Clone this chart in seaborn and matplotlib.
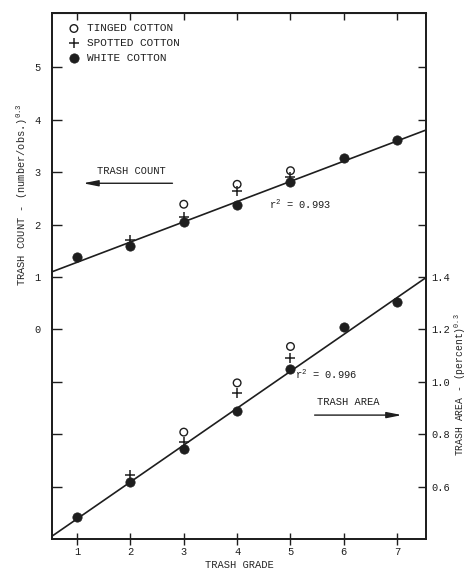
import numpy as np
import pandas as pd
import matplotlib
matplotlib.use("Agg")
import matplotlib.pyplot as plt
import seaborn as sns

# trash grade (x) and values
grades = [1, 2, 3, 4, 5, 6, 7]
tinged_grades = [3, 4, 5]
spotted_grades = [2, 3, 4, 5]

# trash count - (number/obs.)^0.3, left axis
white_count = [1.38, 1.59, 2.05, 2.37, 2.81, 3.27, 3.61]
tinged_count = [2.39, 2.77, 3.03]
spotted_count = [1.70, 2.14, 2.64, 2.91]

# trash area - (percent)^0.3, right axis
white_area = [0.485, 0.619, 0.742, 0.888, 1.05, 1.208, 1.304]
tinged_area = [0.808, 0.996, 1.135]
spotted_area = [0.646, 0.769, 0.958, 1.092]

left_ticks = [-3, -2, -1, 0, 1, 2, 3, 4, 5]
left_labels = ["", "", "", "0", "1", "2", "3", "4", "5"]
right_ticks = [0.6, 0.8, 1.0, 1.2, 1.4, 1.6, 1.8, 2.0, 2.2]
right_labels = ["0.6", "0.8", "1.0", "1.2", "1.4", "", "", "", ""]

labels = ["TINGED COTTON", "SPOTTED COTTON", "WHITE COTTON"]
r2_count = "r$^2$ = 0.993"
r2_area = "r$^2$ = 0.996"

ink = "#1e1e1e"

sns.set_style("ticks")
plt.rcParams["font.family"] = ["Liberation Mono", "DejaVu Sans Mono"]
plt.rcParams["mathtext.default"] = "regular"
plt.rcParams["axes.edgecolor"] = ink
plt.rcParams["xtick.color"] = ink
plt.rcParams["ytick.color"] = ink
plt.rcParams["text.color"] = ink

fig, ax = plt.subplots(figsize=(4.67, 5.71), dpi=100)
fig.subplots_adjust(left=52/467, right=426/467, top=1-13/571, bottom=1-539/571)
ax2 = ax.twinx()

xlim = (0.53, 7.54)
ax.set_xlim(xlim)
ax2.set_xlim(xlim)
ax.set_ylim(-4.0, 6.04)
ax2.set_ylim(0.4, 1.2 + 0.2 * 6.04)

# points, left axis (these carry the legend)
sns.scatterplot(x=tinged_grades, y=tinged_count, ax=ax, marker="o", s=30,
                color=ink, facecolors="none", edgecolor=ink, linewidth=1.0,
                label=labels[0], zorder=4)
sns.scatterplot(x=spotted_grades, y=spotted_count, ax=ax, marker="+", s=60,
                color=ink, linewidth=1.1, label=labels[1], zorder=4)
sns.scatterplot(x=grades, y=white_count, ax=ax, marker="o", s=45,
                color=ink, edgecolor=ink, linewidth=0.5, label=labels[2], zorder=4)

# points, right axis
sns.scatterplot(x=tinged_grades, y=tinged_area, ax=ax2, marker="o", s=30,
                color=ink, facecolors="none", edgecolor=ink, linewidth=1.0, zorder=4)
sns.scatterplot(x=spotted_grades, y=spotted_area, ax=ax2, marker="+", s=60,
                color=ink, linewidth=1.1, zorder=4)
sns.scatterplot(x=grades, y=white_area, ax=ax2, marker="o", s=45,
                color=ink, edgecolor=ink, linewidth=0.5, zorder=4)

# fitted lines across the full axis width
ax.set_xlim(xlim)
ax2.set_xlim(xlim)
sns.regplot(x=grades, y=white_count, ax=ax, ci=None, truncate=False, scatter=False,
            line_kws=dict(color=ink, lw=1.2))
sns.regplot(x=grades, y=white_area, ax=ax2, ci=None, truncate=False, scatter=False,
            line_kws=dict(color=ink, lw=1.2))
ax.set_xlim(xlim)
ax2.set_xlim(xlim)
ax.set_ylim(-4.0, 6.04)
ax2.set_ylim(0.4, 1.2 + 0.2 * 6.04)

fs = 7.5
ax.set_xticks(grades)
ax.set_xticklabels([str(g) for g in grades], fontsize=fs)
ax.set_yticks(left_ticks)
ax.set_yticklabels(left_labels, fontsize=fs)
ax2.set_yticks(right_ticks)
ax2.set_yticklabels(right_labels, fontsize=fs)
ax.tick_params(axis="x", direction="inout", length=8, width=1.0, pad=2)
ax.tick_params(axis="y", direction="in", length=7, width=1.0, pad=8)
ax2.tick_params(axis="y", direction="in", length=6, width=1.0, pad=4)
top = ax.secondary_xaxis("top")
top.set_xticks(grades)
top.set_xticklabels([])
top.tick_params(direction="in", length=5, width=1.0)

for a in (ax, ax2):
    for sp in a.spines.values():
        sp.set_linewidth(1.3)
        sp.set_visible(True)

ax.set_xlabel("TRASH GRADE", fontsize=fs)
ax.xaxis.set_label_coords(0.5, -0.04)
ax.set_ylabel("TRASH COUNT - (number/obs.)$^{0.3}$", fontsize=fs)
ax.yaxis.set_label_coords(-0.06, 0.654)
ax2.set_ylabel("TRASH AREA - (percent)$^{0.3}$", fontsize=7)
ax2.yaxis.set_label_coords(1.072, 0.293)

ax.legend(loc="upper left", bbox_to_anchor=(0.02, 0.995), frameon=False,
          fontsize=8, handlelength=1.2, handletextpad=0.6, labelspacing=0.45,
          borderaxespad=0.3)

ax.text(4.60, 2.39, r2_count, fontsize=fs, va="center", ha="left")
ax2.text(5.08, 1.027, r2_area, fontsize=fs, va="center", ha="left")

ax.text(1.37, 3.02, "TRASH COUNT", fontsize=fs, va="center", ha="left")
ax.annotate("", xy=(1.06, 2.79), xytext=(2.84, 2.79),
            arrowprops=dict(arrowstyle="-|>,head_length=0.9,head_width=0.18", color=ink, lw=1.0))
ax2.text(5.49, 0.923, "TRASH AREA", fontsize=fs, va="center", ha="left")
ax2.annotate("", xy=(7.14, 0.873), xytext=(5.40, 0.873),
             arrowprops=dict(arrowstyle="-|>,head_length=0.9,head_width=0.18", color=ink, lw=1.0))

plt.savefig("out.png", dpi=100)
